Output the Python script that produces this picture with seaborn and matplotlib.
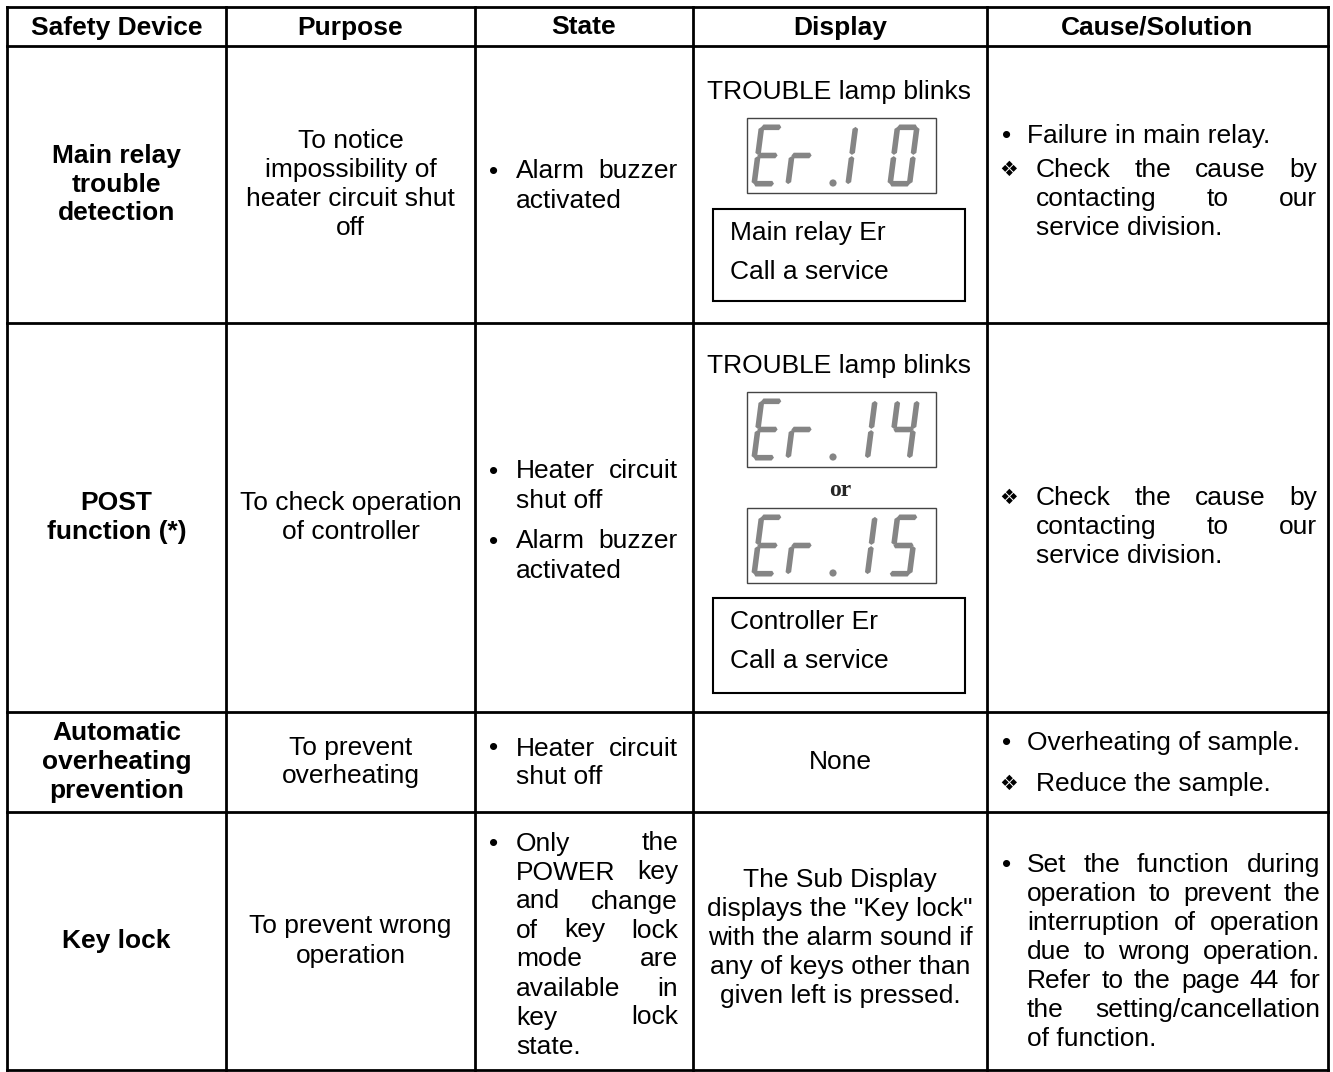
import matplotlib
matplotlib.use("Agg")
import matplotlib.pyplot as plt
from matplotlib.patches import Rectangle, Polygon, Circle
import seaborn as sns

# table texts
headers = ["Safety Device", "Purpose", "State", "Display", "Cause/Solution"]
devices = [["Main relay", "trouble", "detection"],
           ["POST", "function (*)"],
           ["Automatic", "overheating", "prevention"],
           ["Key lock"]]
purposes = [["To notice", "impossibility of", "heater circuit shut", "off"],
            ["To check operation", "of controller"],
            ["To prevent", "overheating"],
            ["To prevent wrong", "operation"]]
states = [[["Alarm buzzer", "activated"]],
          [["Heater circuit", "shut off"], ["Alarm buzzer", "activated"]],
          [["Heater circuit", "shut off"]],
          [["Only the", "POWER key", "and change", "of key lock", "mode are",
            "available in", "key lock", "state."]]]
lamp_text = "TROUBLE lamp blinks"
codes_row1 = ["Er.10"]
codes_row2 = ["Er.14", "Er.15"]
msg_row1 = ["Main relay Er", "Call a service"]
msg_row2 = ["Controller Er", "Call a service"]
display_row3 = "None"
display_row4 = ["The Sub Display", "displays the \"Key lock\"",
                "with the alarm sound if", "any of keys other than",
                "given left is pressed."]
causes = [[("•", ["Failure in main relay."]),
           ("❖", ["Check the cause by", "contacting to our", "service division."])],
          [("❖", ["Check the cause by", "contacting to our", "service division."])],
          [("•", ["Overheating of sample."]), ("❖", ["Reduce the sample."])],
          [("•", ["Set the function during", "operation to prevent the",
                  "interruption of operation", "due to wrong operation.",
                  "Refer to the page 44 for", "the setting/cancellation",
                  "of function."])]]

sns.set_theme(style="white")
plt.rcParams['font.family'] = ['Liberation Sans', 'DejaVu Sans']

W, H = 1333, 1072
fig = plt.figure(figsize=(W / 100, H / 100), dpi=100)
ax = fig.add_axes([0, 0, 1, 1])
ax.set_xlim(0, W)
ax.set_ylim(H, 0)
ax.axis('off')
renderer = fig.canvas.get_renderer()

col_x = [7, 226, 475, 693, 987, 1328]
row_y = [7, 46, 323, 712, 812, 1070]
FS = 19
LS = 29

# grid
for x in col_x:
    ax.plot([x, x], [row_y[0], row_y[-1]], color='black', lw=2, solid_capstyle='projecting')
for y in row_y:
    ax.plot([col_x[0], col_x[-1]], [y, y], color='black', lw=2, solid_capstyle='projecting')


def txt(x, y, s, ha='left', **kw):
    kw.setdefault('fontsize', FS)
    return ax.text(x, y, s, ha=ha, va='center', color='black', **kw)


def word_w(s):
    t = txt(0, 0, s)
    w = t.get_window_extent(renderer).width
    t.remove()
    return w


def put_line(s, x0, x1, y, justify):
    words = s.split()
    if not justify or len(words) == 1:
        txt(x0, y, s)
        return
    ws = [word_w(w) for w in words]
    gap = (x1 - x0 - sum(ws)) / (len(words) - 1)
    x = x0
    for w, ww in zip(words, ws):
        txt(x, y, w)
        x += ww + gap


def paragraph(lines, x0, x1, y0):
    for i, s in enumerate(lines):
        put_line(s, x0, x1, y0 + i * LS, i < len(lines) - 1)
    return y0 + len(lines) * LS


# header
for i, h in enumerate(headers):
    txt((col_x[i] + col_x[i + 1]) / 2, (row_y[0] + row_y[1]) / 2 + 1, h,
        ha='center', fontweight='bold')

row_c = [(row_y[i] + row_y[i + 1]) / 2 for i in range(1, 5)]

# device + purpose columns, centered
for r in range(4):
    for col, data, bold in [(0, devices, True), (1, purposes, False)]:
        lines = data[r]
        y0 = row_c[r] - (len(lines) - 1) * LS / 2
        cx = (col_x[col] + col_x[col + 1]) / 2
        for i, s in enumerate(lines):
            txt(cx, y0 + i * LS, s, ha='center',
                fontweight='bold' if bold else 'normal')

# state column
PG = 12
state_c = [186, 521, 763, 945]
for r in range(4):
    paras = states[r]
    n = sum(len(p) for p in paras)
    total = (n - 1) * LS + (len(paras) - 1) * PG
    y = state_c[r] - total / 2
    for p in paras:
        txt(494, y, "•", ha='center')
        y = paragraph(p, 516, 678, y) + PG

# cause column
cause_y0 = [136, 498, 743, 865]
cause_gap = [5, 0, 12, 0]
cause_right = [1317, 1317, 1317, 1320]
for r in range(4):
    y = cause_y0[r]
    for mark, lines in causes[r]:
        if mark == "•":
            txt(1007, y, mark, ha='center')
            x0 = 1027
        else:
            txt(1009, y, mark, ha='center', fontsize=15, family=['DejaVu Sans'])
            x0 = 1036
        y = paragraph(lines, x0, cause_right[r], y) + cause_gap[r]

# seven segment readouts
SEGS = {'E': 'adefg', 'r': 'eg', '0': 'abcdef', '1': 'bc', '4': 'bcfg', '5': 'acdfg'}
DW, DH, DT, DG, SL = 25, 62, 5.6, 0.6, 0.13
TAPER = 2.0
GREY = '#858585'


def seg_shape(seg):
    t = DT / 2
    k = TAPER
    if seg in 'adg':
        v = {'a': DH - t, 'd': t, 'g': DH / 2}[seg]
        u1, u2 = t + DG - 1, DW - t - DG + 1
        return [(u1, v), (u1 + k, v + t), (u2 - k, v + t), (u2, v), (u2 - k, v - t), (u1 + k, v - t)]
    u = t if seg in 'ef' else DW - t
    if seg in 'fb':
        v1, v2 = DH / 2 + DG, DH - t - DG + 1
    else:
        v1, v2 = t + DG - 1, DH / 2 - DG
    return [(u, v1), (u + t, v1 + k), (u + t, v2 - k), (u, v2), (u - t, v2 - k), (u - t, v1 + k)]


def readout(code, top, one_left=False):
    ax.add_patch(Rectangle((747, top), 189, 75, fill=False, ec='#444444', lw=1))
    ybot = top + 75 - 6.5
    cells = [751, 785, None, 845, 887]
    for ch, x0 in zip(code, cells):
        if ch == '.':
            ax.add_patch(Circle((833, ybot - 3.5), 3.6, color=GREY, lw=0))
            continue
        segs = SEGS[ch]
        if ch == '1' and one_left:
            segs = 'ef'
        for s in segs:
            pts = [(x0 + u + SL * v, ybot - v) for u, v in seg_shape(s)]
            ax.add_patch(Polygon(pts, closed=True, color=GREY, lw=0))


def msg_box(lines, top, bottom):
    ax.add_patch(Rectangle((713, top), 252, bottom - top, fill=False, ec='black', lw=1.5))
    txt(730, top + 24, lines[0])
    txt(730, top + 63, lines[1])


# display column
txt(839, 92, lamp_text, ha='center')
readout(codes_row1[0], 118, one_left=True)
msg_box(msg_row1, 209, 301)

txt(839, 366, lamp_text, ha='center')
readout(codes_row2[0], 392)
ax.text(840, 490, "or", ha='center', va='center', fontsize=17,
        fontweight='bold', family=['Liberation Serif'])
readout(codes_row2[1], 508)
msg_box(msg_row2, 598, 693)

txt(840, 762, display_row3, ha='center')
for i, s in enumerate(display_row4):
    txt(840, 880 + i * LS, s, ha='center')

fig.savefig("out.png", dpi=100, facecolor='white')
